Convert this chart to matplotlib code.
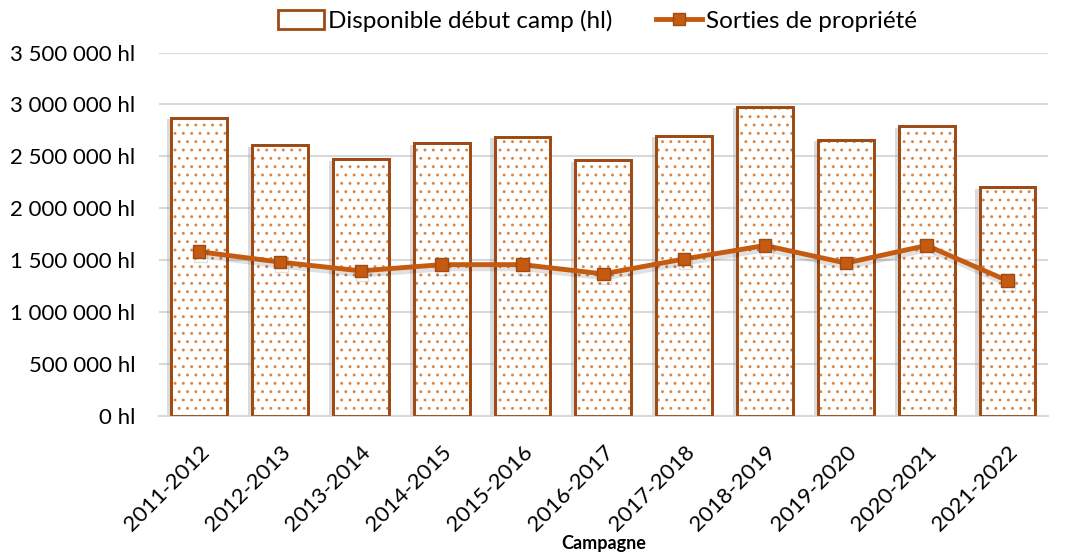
import matplotlib
matplotlib.use("Agg")
import matplotlib.pyplot as plt
import matplotlib.patheffects as pe
from matplotlib.ticker import FuncFormatter
from matplotlib.patches import Patch
from matplotlib.lines import Line2D

# Data
campagnes = ["2011-2012", "2012-2013", "2013-2014", "2014-2015", "2015-2016",
             "2016-2017", "2017-2018", "2018-2019", "2019-2020", "2020-2021",
             "2021-2022"]
disponible = [2870000, 2606000, 2470000, 2626000, 2690000, 2460000,
              2700000, 2980000, 2660000, 2790000, 2200000]
sorties = [1580000, 1480000, 1395000, 1455000, 1455000, 1366000,
           1510000, 1640000, 1470000, 1640000, 1300000]

ORANGE = "#C55A11"
BROWN = "#9E4A14"
DOTS = "#D98645"

plt.rcParams["font.family"] = ["Lato", "DejaVu Sans"]
plt.rcParams["hatch.linewidth"] = 0.9

fig = plt.figure(figsize=(10.65, 5.54), dpi=100)
ax = fig.add_axes([0.149, 0.25, 0.835, 0.655])

x = list(range(len(campagnes)))
shadow = [pe.SimplePatchShadow(offset=(-3, -1), shadow_rgbFace="#999999", alpha=0.35), pe.Normal()]

ax.bar(x, disponible, width=0.69, color="white", edgecolor=BROWN, linewidth=2.0,
       zorder=2, path_effects=shadow)
ax.bar(x, disponible, width=0.69, color="none", hatch="..", edgecolor=DOTS,
       linewidth=0, zorder=3)
ax.bar(x, disponible, width=0.69, color="none", edgecolor=BROWN, linewidth=2.0, zorder=4)

ax.plot(x, sorties, color=ORANGE, linewidth=3.5, marker="s", markersize=9,
        markerfacecolor=ORANGE, markeredgecolor=BROWN, markeredgewidth=1.0, zorder=5,
        path_effects=[pe.SimpleLineShadow(offset=(1, -3), alpha=0.12), pe.Normal()])

ax.set_xlim(-0.5, len(campagnes) - 0.5)
ax.set_ylim(0, 3500000)
ax.set_yticks(range(0, 3500001, 500000))
ax.yaxis.set_major_formatter(FuncFormatter(lambda v, p: f"{int(v):,} hl".replace(",", " ")))
ax.grid(axis="y", color="#D9D9D9", linewidth=1.5, zorder=0)
ax.set_axisbelow(True)
for s in ["top", "right", "left"]:
    ax.spines[s].set_visible(False)
ax.spines["bottom"].set_color("#D9D9D9")
ax.spines["bottom"].set_linewidth(1.5)
ax.tick_params(axis="y", length=0, labelsize=16, colors="#000000", pad=17)
ax.tick_params(axis="x", length=0, labelsize=16, colors="#000000", pad=19)
ax.set_xticks(x)
ax.set_xticklabels(campagnes, rotation=45, ha="right", rotation_mode="anchor")
ax.set_xlabel("Campagne", fontsize=13, fontweight="bold", labelpad=0)

handles = [
    Patch(facecolor="white", edgecolor=BROWN, linewidth=2),
    Line2D([0], [0], color=ORANGE, linewidth=3.5, marker="s", markersize=9,
           markerfacecolor=ORANGE, markeredgecolor=BROWN),
]
fig.legend(handles, ["Disponible début camp (hl)", "Sorties de propriété"],
           loc="upper center", bbox_to_anchor=(0.561, 1.022), ncol=2, frameon=False,
           fontsize=17.5, handlelength=1.9, handleheight=0.8, columnspacing=1.8,
           handletextpad=0.15)

fig.savefig("out.png", dpi=100, facecolor="white")
